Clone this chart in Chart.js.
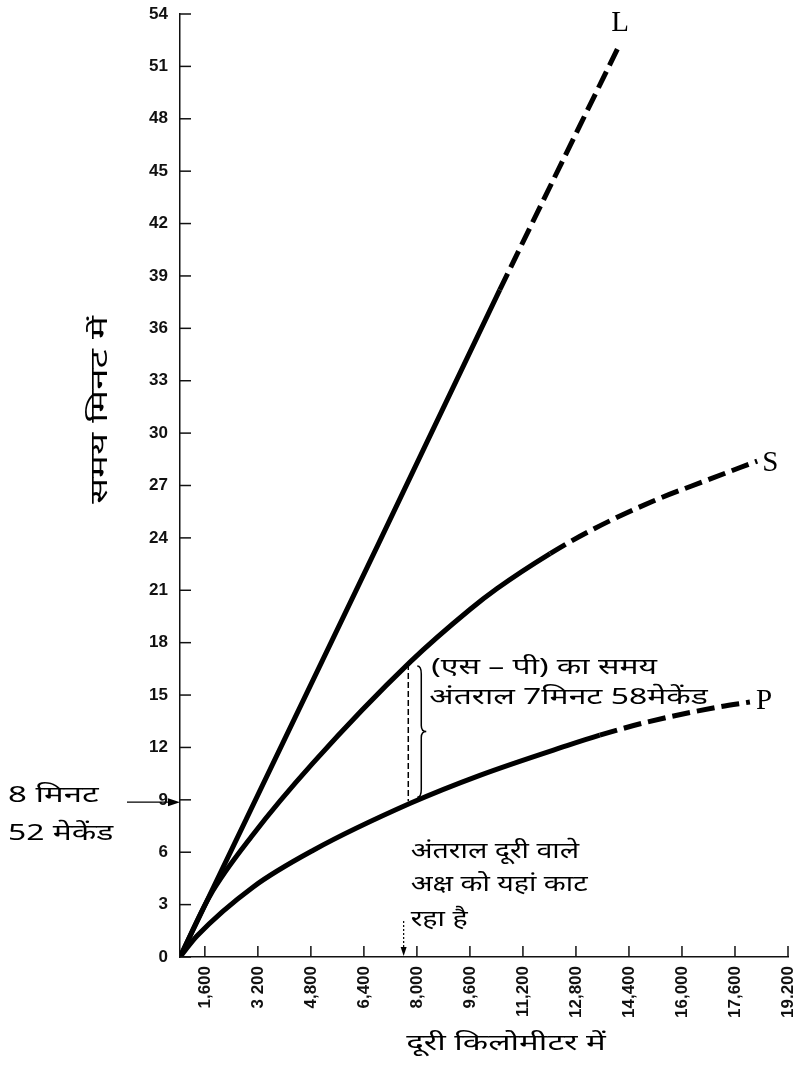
<!DOCTYPE html>
<html>
<head>
<meta charset="utf-8">
<script src="https://cdn.jsdelivr.net/npm/chart.js@4/dist/chart.umd.min.js"></script>
<style>
  html, body { margin:0; padding:0; background:#fff; }
  #wrap { width:793px; height:1069px; }
</style>
</head>
<body>
<div id="wrap"><canvas id="chart" width="793" height="1069"></canvas></div>
<script>
// ---------------- Data ----------------
const xTicks = [1600, 3200, 4800, 6400, 8000, 9600, 11200, 12800, 14400, 16000, 17600, 19200];
const xTickLabels = ["1,600", "3 200", "4,800", "6,400", "8,000", "9,600", "11,200", "12,800", "14,400", "16,000", "17,600", "19,200"];
const yTicks = [0, 3, 6, 9, 12, 15, 18, 21, 24, 27, 30, 33, 36, 39, 42, 45, 48, 51, 54];

// L wave
const lDist = [850, 6850, 10500, 14130];
const lTime = [0, 23.7, 38.2, 52.3];
const lDashFrom = 10500;

// S wave
const sDist = [850, 1750, 3050, 4860, 7800, 9600, 10420, 12020, 13220, 15120, 16750, 18270];
const sTime = [0, 3.5, 7.0, 11.1, 16.9, 19.9, 21.1, 23.1, 24.4, 26.1, 27.3, 28.4];
const sDashFrom = 12020;

// P wave
const pDist = [850, 1360, 3050, 4860, 7800, 9900, 12530, 13520, 14940, 17060, 18050];
const pTime = [0, 1.2, 4.0, 6.1, 8.8, 10.4, 12.1, 12.7, 13.45, 14.3, 14.6];
const pDashFrom = 13520;

const bracketDist = 7800;      // where S-P gap is marked
const crossDist = 7600;        // arrow on distance axis
const pArrivalMin = 8 + 52/60; // 8 min 52 s

const yTitle = "समय मिनट में";
const xTitle = "दूरी किलोमीटर में";
const gapNote = ["(एस – पी) का समय", "अंतराल 7मिनट 58मेकेंड"];
const crossNote = ["अंतराल दूरी वाले", "अक्ष को यहां काट", "रहा है"];
const pNote = ["8 मिनट", "52 मेकेंड"];

const HINDI = '"Noto Sans", "Noto Sans Devanagari", "Lohit Devanagari", sans-serif';

function pts(xs, ys){ return xs.map((x,i)=>({x:x, y:ys[i]})); }
function waveSet(label, xs, ys, dashFrom){
  return {
    label: label,
    data: pts(xs, ys),
    borderColor:'#000',
    borderWidth:5,
    pointRadius:0,
    cubicInterpolationMode:'monotone',
    segment:{ borderDash: ctx => ctx.p0.parsed.x >= dashFrom ? [18,7] : undefined }
  };
}

// wide printed type: draw text stretched horizontally
function wideText(c, text, x, y, sx){
  c.save();
  c.translate(x, y);
  c.scale(sx, 1);
  c.fillText(text, 0, 0);
  c.restore();
}

// ---------------- Inward ticks ----------------
const inwardTicks = {
  id:'inwardTicks',
  afterDraw(chart){
    const c = chart.ctx, xs = chart.scales.x, ys = chart.scales.y;
    const a = chart.chartArea;
    c.save();
    c.strokeStyle = '#111';
    c.lineWidth = 1.5;
    ys.ticks.forEach(t=>{
      const py = ys.getPixelForValue(t.value);
      c.beginPath(); c.moveTo(a.left, py); c.lineTo(a.left+11, py); c.stroke();
    });
    xs.ticks.forEach(t=>{
      const px = xs.getPixelForValue(t.value);
      c.beginPath(); c.moveTo(px, a.bottom); c.lineTo(px, a.bottom-11); c.stroke();
    });
    c.restore();
  }
};

// ---------------- Notes, brace, arrows, titles ----------------
const notes = {
  id:'notes',
  afterDatasetsDraw(chart){
    const c = chart.ctx, xs = chart.scales.x, ys = chart.scales.y;
    const a = chart.chartArea;
    c.save();
    c.fillStyle = '#000';
    c.strokeStyle = '#000';

    // wave letters at line ends
    c.font = '29px "Liberation Serif", serif';
    c.textBaseline = 'middle';
    const endOf = i => { const d = chart.getDatasetMeta(i).data; return d[d.length-1]; };
    const eL = endOf(0), eS = endOf(1), eP = endOf(2);
    c.textAlign = 'center'; c.fillText('L', eL.x, eL.y-20);
    c.textAlign = 'left';
    c.fillText('S', eS.x+5, eS.y+2);
    c.fillText('P', eP.x+6, eP.y-1);

    // S-P gap: dashed line + brace
    const bx = xs.getPixelForValue(bracketDist);
    const topY = ys.getPixelForValue(sTime[sDist.indexOf(bracketDist)]);
    const botY = ys.getPixelForValue(pTime[pDist.indexOf(bracketDist)]);
    c.lineWidth = 1.5;
    c.setLineDash([6,3]);
    c.beginPath(); c.moveTo(bx-2, topY+2); c.lineTo(bx-2, botY-2); c.stroke();
    c.setLineDash([]);
    const x0 = bx+11, t = topY+4, b = botY-6, m = (t+b)/2;
    c.beginPath();
    c.moveTo(x0-4, t);
    c.quadraticCurveTo(x0, t, x0, t+8);
    c.lineTo(x0, m-6);
    c.quadraticCurveTo(x0, m, x0+5, m);
    c.quadraticCurveTo(x0, m, x0, m+6);
    c.lineTo(x0, b-8);
    c.quadraticCurveTo(x0, b, x0-4, b);
    c.stroke();

    c.font = '22px ' + HINDI;
    c.textAlign = 'left';
    wideText(c, gapNote[0], bx+21, topY+6, 1.45);
    wideText(c, gapNote[1], bx+19, topY+36, 1.45);

    // arrow on distance axis
    const cx = xs.getPixelForValue(crossDist);
    c.lineWidth = 1.2;
    c.setLineDash([2,2]);
    c.beginPath(); c.moveTo(cx, a.bottom-36); c.lineTo(cx, a.bottom-6); c.stroke();
    c.setLineDash([]);
    c.beginPath(); c.moveTo(cx-3, a.bottom-10); c.lineTo(cx, a.bottom-1); c.lineTo(cx+3, a.bottom-10); c.closePath(); c.fill();
    wideText(c, crossNote[0], cx+7, a.bottom-105, 1.3);
    wideText(c, crossNote[1], cx+7, a.bottom-72, 1.3);
    wideText(c, crossNote[2], cx+7, a.bottom-37, 1.3);

    // P arrival arrow on time axis
    const ay = ys.getPixelForValue(pArrivalMin);
    c.lineWidth = 1.3;
    c.beginPath(); c.moveTo(a.left-53, ay); c.lineTo(a.left-4, ay); c.stroke();
    c.beginPath(); c.moveTo(a.left-12, ay-4); c.lineTo(a.left, ay); c.lineTo(a.left-12, ay+4); c.closePath(); c.fill();
    wideText(c, pNote[0], 8, ay-6, 1.5);
    wideText(c, pNote[1], 8, ay+32, 1.45);

    // axis titles
    c.textAlign = 'center';
    wideText(c, xTitle, 506, 1044, 1.5);
    c.font = '24px ' + HINDI;
    c.translate(100, 410);
    c.rotate(-Math.PI/2);
    c.scale(1.6, 1);
    c.fillText(yTitle, 0, 0);
    c.restore();
  }
};

// ---------------- Chart ----------------
const yTickFont = { family:'"Liberation Sans", sans-serif', size:17, weight:'bold' };
const xTickFont = { family:'"Liberation Sans", sans-serif', size:17, weight:'bold' };

new Chart(document.getElementById('chart'), {
  type:'line',
  data:{
    datasets:[
      waveSet('L', lDist, lTime, lDashFrom),
      waveSet('S', sDist, sTime, sDashFrom),
      waveSet('P', pDist, pTime, pDashFrom)
    ]
  },
  options:{
    responsive:false,
    animation:false,
    devicePixelRatio:1,
    layout:{ padding:{ top:14, right:5, left:0, bottom:0 } },
    plugins:{ legend:{display:false}, tooltip:{enabled:false} },
    scales:{
      x:{
        type:'linear', min:850, max:19200,
        afterBuildTicks: s => { s.ticks = xTicks.map(v=>({value:v})); },
        afterFit: s => { s.height = 112; s.paddingLeft = 0; s.paddingRight = 0; },
        ticks:{ autoSkip:false, minRotation:90, maxRotation:90, padding:9, color:'#111', font:xTickFont,
                callback: v => xTickLabels[xTicks.indexOf(v)] },
        grid:{ drawOnChartArea:false, drawTicks:false },
        border:{ color:'#111', width:1.5, dash:[3,1] }
      },
      y:{
        type:'linear', min:0, max:54,
        afterBuildTicks: s => { s.ticks = yTicks.map(v=>({value:v})); },
        afterFit: s => { s.width = 180; s.paddingTop = 0; s.paddingBottom = 0; },
        ticks:{ autoSkip:false, padding:12, color:'#111', font:yTickFont, callback: v => String(v) },
        grid:{ drawOnChartArea:false, drawTicks:false },
        border:{ color:'#111', width:1.5, dash:[3,1] }
      }
    }
  },
  plugins:[inwardTicks, notes]
});
</script>
</body>
</html>
